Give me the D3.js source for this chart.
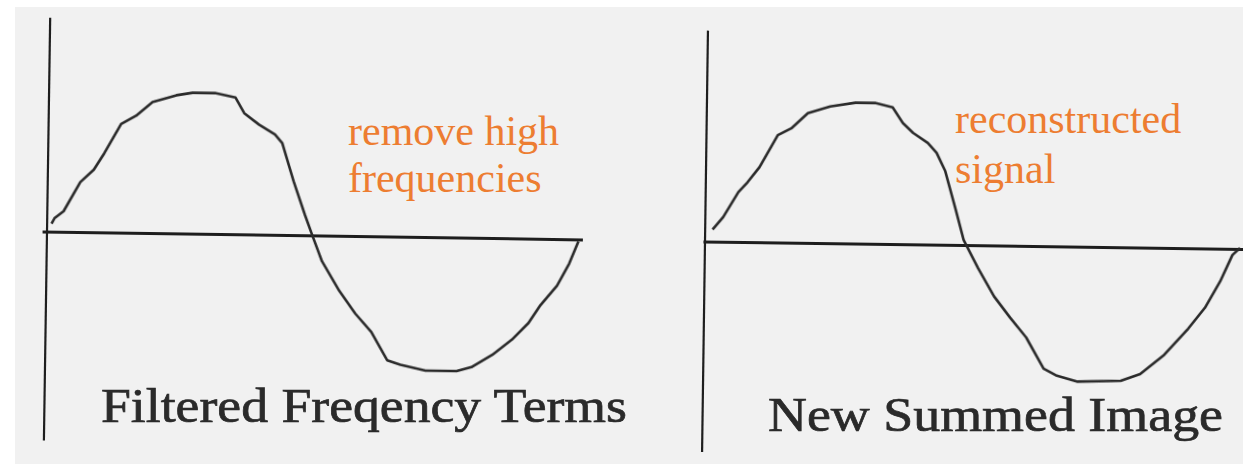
<!DOCTYPE html>
<html lang="en">
<head>
  <meta charset="UTF-8">
  <title>Filtered frequency terms vs new summed image</title>
  <style>
    body { margin: 0; overflow: hidden; background: #fff; }
    svg { display: block; }
    .axis-line { stroke: #1e1e1e; fill: none; stroke-linecap: butt; }
    .wave { stroke: #2b2b2b; stroke-width: 2.6; fill: none; stroke-linejoin: round; filter: url(#soft); }
    .caption { font-family: "Liberation Serif", Tinos, "Times New Roman", Times, serif; fill: #2a2a2a; stroke: #2a2a2a; stroke-width: 0.7; filter: url(#soft); }
    .note { font-family: "Liberation Serif", Tinos, "Times New Roman", Times, serif; fill: #ed7d31; }
  </style>
  <script src="https://d3js.org/d3.v7.min.js"></script>
</head>
<body>
  <svg width="1243" height="464">
    <defs>
      <filter id="soft">
        <feGaussianBlur stdDeviation="0.6"/>
      </filter>
    </defs>
  </svg>
  <script>
    // phase (degrees) and amplitude
    const leftPhase = [3, 5, 11, 22, 31, 38, 49, 59, 70, 86, 97, 112, 126, 132, 142, 153, 158, 166, 174, 179,
                       186, 198, 209, 220, 231, 240, 257, 278, 288, 302, 315, 326, 334, 345, 353, 359];
    const leftValue = [0.06, 0.10, 0.15, 0.36, 0.45, 0.57, 0.78, 0.84, 0.94, 0.99, 1.01, 1.01, 0.98, 0.87, 0.79, 0.72, 0.66, 0.39, 0.15, 0.01,
                       -0.18, -0.39, -0.55, -0.68, -0.88, -0.91, -0.95, -0.95, -0.92, -0.83, -0.72, -0.60, -0.47, -0.33, -0.17, -0.01];

    const rightPhase = [5, 12, 22, 28, 36, 48, 57, 68, 83, 100, 113, 125, 132, 139, 149, 155, 161, 168, 174,
                        184, 195, 206, 217, 229, 238, 252, 281, 294, 310, 326, 337, 347, 355, 360];
    const rightValue = [0.09, 0.18, 0.36, 0.43, 0.54, 0.77, 0.82, 0.93, 0.98, 1.01, 1.01, 0.98, 0.87, 0.80, 0.73, 0.66, 0.53, 0.27, 0.04,
                        -0.16, -0.36, -0.51, -0.65, -0.87, -0.92, -0.96, -0.95, -0.90, -0.76, -0.57, -0.42, -0.23, -0.04, 0.01];

    const captions = ["Filtered Freqency Terms", "New Summed Image"];
    const notes = [["remove high", "frequencies"], ["reconstructed", "signal"]];

    const width = 1243, height = 464;
    const svg = d3.select("svg");

    // scanned page background
    svg.append("rect")
      .attr("x", 15).attr("y", 7)
      .attr("width", width - 15).attr("height", height - 7)
      .attr("fill", "#f1f1f1");

    const panels = [
      { phase: leftPhase, value: leftValue, ox: 47, oy: 232, xEnd: 580, tilt: 0.85,
        vTop: 1.53, vBottom: -1.49, hStart: -3, hEnd: 362,
        cap: { x0: 101, x1: 627, y: 422 }, note: { x: 348, y: 145, dy: 47 } },
      { phase: rightPhase, value: rightValue, ox: 705, oy: 242, xEnd: 1240, tilt: 0.8,
        vTop: 1.51, vBottom: -1.5, hStart: -1, hEnd: 368,
        cap: { x0: 768, x1: 1223, y: 431 }, note: { x: 955, y: 133, dy: 50 } }
    ];

    panels.forEach((p, i) => {
      const x = d3.scaleLinear().domain([0, 360]).range([p.ox, p.xEnd]);
      const y = d3.scaleLinear().domain([-1, 1]).range([p.oy + 140, p.oy - 140]);

      const g = svg.append("g")
        .attr("transform", `rotate(${p.tilt},${p.ox},${p.oy})`);

      // vertical axis
      g.append("line")
        .attr("class", "axis-line")
        .attr("x1", x(0)).attr("x2", x(0))
        .attr("y1", y(p.vTop)).attr("y2", y(p.vBottom))
        .attr("stroke-width", 2.2);

      // horizontal axis
      g.append("line")
        .attr("class", "axis-line")
        .attr("x1", x(p.hStart)).attr("x2", x(p.hEnd))
        .attr("y1", y(0)).attr("y2", y(0))
        .attr("stroke-width", 3);

      const line = d3.line()
        .x(d => x(d[0]))
        .y(d => y(d[1]))
        .curve(d3.curveLinear);

      g.append("path")
        .datum(d3.zip(p.phase, p.value))
        .attr("class", "wave")
        .attr("d", line);

      svg.append("text")
        .attr("class", "caption")
        .attr("x", p.cap.x0).attr("y", p.cap.y)
        .attr("font-size", 48)
        .attr("textLength", p.cap.x1 - p.cap.x0)
        .attr("lengthAdjust", "spacingAndGlyphs")
        .text(captions[i]);

      svg.append("g").selectAll("text")
        .data(notes[i])
        .join("text")
        .attr("class", "note")
        .attr("x", p.note.x)
        .attr("y", (d, k) => p.note.y + k * p.note.dy)
        .attr("font-size", 42)
        .text(d => d);
    });
  </script>
</body>
</html>
